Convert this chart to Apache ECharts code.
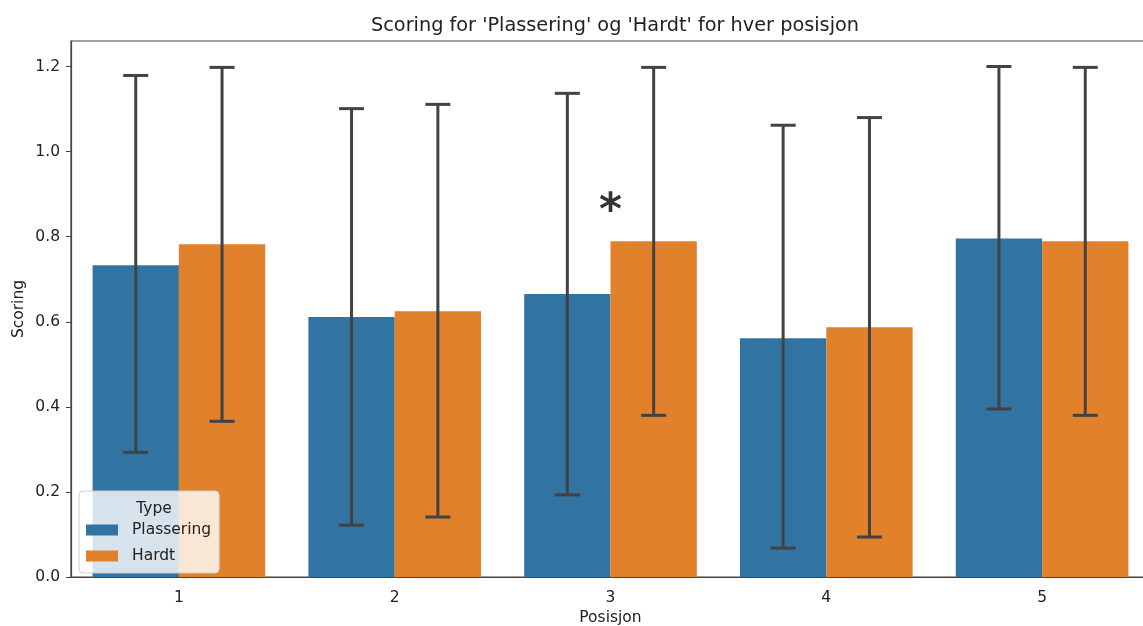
<!DOCTYPE html>
<html>
<head>
<meta charset="utf-8">
<script src="https://cdn.jsdelivr.net/npm/echarts@6/dist/echarts.min.js"></script>
<style>html,body{margin:0;padding:0;background:#fff}#c{width:1143px;height:626px}</style>
</head>
<body>
<div id="c"></div>
<script>
var chartTitle = "Scoring for 'Plassering' og 'Hardt' for hver posisjon";
var categories = ['1', '2', '3', '4', '5'];
var seriesNames = ['Plassering', 'Hardt'];
var plassering = [0.733, 0.611, 0.665, 0.561, 0.796];
var hardt = [0.782, 0.625, 0.789, 0.587, 0.789];
var plasseringLow = [0.293, 0.122, 0.193, 0.068, 0.395];
var plasseringHigh = [1.179, 1.101, 1.137, 1.062, 1.200];
var hardtLow = [0.366, 0.141, 0.380, 0.094, 0.380];
var hardtHigh = [1.198, 1.111, 1.198, 1.080, 1.198];
var yTicks = [0, 0.2, 0.4, 0.6, 0.8, 1.0, 1.2];
var annotationCategory = 2;
var annotationValue = 0.857;
var annotationText = '*';

var FONT = 'DejaVu Sans';
var ERR = '#424242';

function errData(lo, hi) {
  return lo.map(function (v, i) { return [i, v, hi[i]]; });
}
function makeErr(sign) {
  return function (params, api) {
    var x = api.value(0);
    var lo = api.coord([x, api.value(1)]);
    var hi = api.coord([x, api.value(2)]);
    var bw = api.size([1, 0])[0];
    var cx = lo[0] + sign * bw * 0.2;
    var cap = 12.5;
    var st = { stroke: ERR, lineWidth: 3 };
    return {
      type: 'group',
      children: [
        { type: 'line', shape: { x1: cx, y1: lo[1], x2: cx, y2: hi[1] }, style: st },
        { type: 'line', shape: { x1: cx - cap, y1: lo[1], x2: cx + cap, y2: lo[1] }, style: st },
        { type: 'line', shape: { x1: cx - cap, y1: hi[1], x2: cx + cap, y2: hi[1] }, style: st }
      ]
    };
  };
}

var chart = echarts.init(document.getElementById('c'), null, { renderer: 'canvas' });
chart.setOption({
  animation: false,
  backgroundColor: '#ffffff',
  textStyle: { fontFamily: FONT },
  title: [
    { text: chartTitle, left: 610, top: 11, textAlign: 'center',
      textStyle: { fontFamily: FONT, fontSize: 19.3, fontWeight: 'normal', color: '#222' } },
    { text: 'Type', left: 149, top: 496, textAlign: 'center', z: 20, zlevel: 1,
      textStyle: { fontFamily: FONT, fontSize: 15.5, fontWeight: 'normal', color: '#222' } }
  ],
  legend: {
    data: seriesNames,
    orient: 'vertical',
    left: 79, top: 491,
    padding: [31, 8, 9, 7],
    itemWidth: 32, itemHeight: 11, itemGap: 10,
    icon: 'rect',
    backgroundColor: 'rgba(255,255,255,0.8)',
    borderColor: '#cccccc', borderWidth: 1, borderRadius: 4,
    z: 10,
    textStyle: { fontFamily: FONT, fontSize: 15.5, color: '#222', padding: [0, 0, 0, 9] }
  },
  grid: { left: 71, top: 41, width: 1079, height: 536, show: true, borderColor: '#444', borderWidth: 1.2,
    containLabel: false, outerBoundsMode: 'none' },
  xAxis: {
    type: 'category', data: categories,
    name: 'Posisjon', nameLocation: 'middle', nameGap: 33, nameMoveOverlap: false,
    nameTextStyle: { fontFamily: FONT, fontSize: 15.5, color: '#222' },
    axisLine: { lineStyle: { color: '#444', width: 1.2 } },
    axisTick: { alignWithLabel: true, length: 5, lineStyle: { color: '#444' } },
    axisLabel: { margin: 13, fontFamily: FONT, fontSize: 15.5, color: '#222' },
    splitLine: { show: false }
  },
  yAxis: {
    type: 'value', min: 0, max: 1.26,
    name: 'Scoring', nameLocation: 'middle', nameGap: 44, nameMoveOverlap: false,
    nameTextStyle: { fontFamily: FONT, fontSize: 15.5, color: '#222' },
    axisLine: { show: true, lineStyle: { color: '#444', width: 1.2 } },
    axisTick: { show: true, length: 5, lineStyle: { color: '#444' }, customValues: yTicks },
    axisLabel: { margin: 11, fontFamily: FONT, fontSize: 15.5, color: '#222', customValues: yTicks,
      formatter: function (v) { return v.toFixed(1); } },
    splitLine: { show: false }
  },
  series: [
    { name: seriesNames[0], type: 'bar', data: plassering, barWidth: '40%', barGap: '0%',
      itemStyle: { color: '#3274a1' } },
    { name: seriesNames[1], type: 'bar', data: hardt, barWidth: '40%', barGap: '0%',
      itemStyle: { color: '#e1812c' } },
    { type: 'custom', renderItem: makeErr(-1), data: errData(plasseringLow, plasseringHigh),
      encode: { x: 0, y: [1, 2] }, z: 5 },
    { type: 'custom', renderItem: makeErr(1), data: errData(hardtLow, hardtHigh),
      encode: { x: 0, y: [1, 2] }, z: 5 },
    { type: 'scatter', data: [[annotationCategory, annotationValue]], symbolSize: 0, z: 6,
      label: { show: true, position: 'inside', formatter: annotationText,
        fontFamily: FONT, fontSize: 44, fontWeight: 'bold', color: '#000' } }
  ]
});
</script>
</body>
</html>
